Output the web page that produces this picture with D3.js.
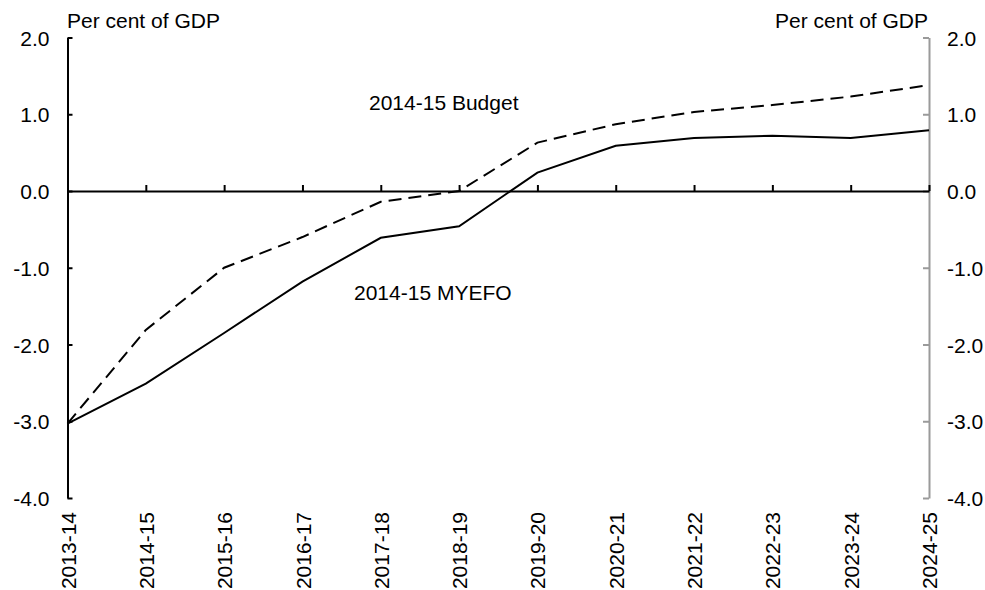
<!DOCTYPE html>
<html lang="en">
<head>
	<meta charset="UTF-8">
	<title>Underlying cash balance</title>
	<script src="https://cdn.jsdelivr.net/npm/d3@7"></script>
	<style>
		body{
			margin: 0;
			background: #fff;
			font-family: "Liberation Sans", Arial, sans-serif;
		}
		svg text{
			font-family: "Liberation Sans", Arial, sans-serif;
			fill: #000;
		}
	</style>
</head>
<body>
	<div id="chart"></div>
	<script>
		// financial years on the x axis
		var years = ['2013-14','2014-15','2015-16','2016-17','2017-18','2018-19',
			'2019-20','2020-21','2021-22','2022-23','2023-24','2024-25'];
		// per cent of GDP
		var budget = [-3.03,-1.81,-1.0,-0.60,-0.14,0.0,0.63,0.87,1.03,1.12,1.23,1.38];
		var myefo = [-3.03,-2.51,-1.85,-1.18,-0.61,-0.46,0.24,0.59,0.69,0.72,0.69,0.79];
		var yTicks = [2,1,0,-1,-2,-3,-4];
		var unitLabel = 'Per cent of GDP';

		var width = 985;
		var height = 590;
		var fontSize = '21px';

		// plain hyphen for negatives, like the original
		var fmt = function(d){ return d.toFixed(1); };

		var canvas = d3.select('#chart').append('svg')
			.attr('width', width)
			.attr('height', height);

		var xScale = d3.scalePoint().domain(years).range([67.5, 929]);
		var yScale = d3.scaleLinear().domain([-4, 2]).range([498, 37.5]);

		// left axis, ticks pointing inward
		var leftAxis = canvas.append('g')
			.attr('transform', 'translate(67.5,0)')
			.call(d3.axisLeft(yScale).tickValues(yTicks).tickFormat(fmt)
				.tickSizeInner(-5).tickSizeOuter(0).tickPadding(18));
		leftAxis.selectAll('path, line').attr('stroke', '#000').attr('stroke-width', 2);
		leftAxis.selectAll('text').style('font-size', fontSize).attr('dy', '0.36em');

		// right axis, grey
		var rightAxis = canvas.append('g')
			.attr('transform', 'translate(929,0)')
			.call(d3.axisRight(yScale).tickValues(yTicks).tickFormat(fmt)
				.tickSizeInner(-6).tickSizeOuter(0).tickPadding(18));
		rightAxis.selectAll('path, line').attr('stroke', '#9a9a9a').attr('stroke-width', 2);
		rightAxis.selectAll('text').style('font-size', fontSize).attr('dy', '0.36em');

		// zero line with small upward ticks
		var zeroAxis = canvas.append('g')
			.attr('transform', 'translate(0,' + yScale(0) + ')')
			.call(d3.axisTop(xScale).tickSizeInner(6).tickSizeOuter(0).tickFormat(''));
		zeroAxis.selectAll('path, line').attr('stroke', '#000').attr('stroke-width', 2);

		// category labels, rotated
		var bottomAxis = canvas.append('g')
			.attr('transform', 'translate(0,' + yScale(-4) + ')')
			.call(d3.axisBottom(xScale).tickSize(0).tickPadding(0));
		bottomAxis.select('.domain').remove();
		bottomAxis.selectAll('text')
			.style('font-size', fontSize)
			.attr('text-anchor', 'end')
			.attr('transform', 'translate(0,14) rotate(-90)')
			.attr('x', 0)
			.attr('y', 0)
			.attr('dy', '0.36em');

		var line = d3.line()
			.x(function(d, i){ return xScale(years[i]); })
			.y(function(d){ return yScale(d); });

		canvas.append('path')
			.datum(budget)
			.attr('fill', 'none')
			.attr('stroke', '#000')
			.attr('stroke-width', 2)
			.attr('stroke-dasharray', '13,7')
			.attr('d', line);

		canvas.append('path')
			.datum(myefo)
			.attr('fill', 'none')
			.attr('stroke', '#000')
			.attr('stroke-width', 2)
			.attr('d', line);

		// unit labels
		canvas.append('text')
			.attr('x', 67)
			.attr('y', 28)
			.style('font-size', fontSize)
			.text(unitLabel);
		canvas.append('text')
			.attr('x', 928)
			.attr('y', 28)
			.attr('text-anchor', 'end')
			.style('font-size', fontSize)
			.text(unitLabel);

		// series labels
		canvas.append('text')
			.attr('x', 369)
			.attr('y', 110)
			.style('font-size', fontSize)
			.text('2014-15 Budget');
		canvas.append('text')
			.attr('x', 354)
			.attr('y', 300)
			.style('font-size', fontSize)
			.text('2014-15 MYEFO');
	</script>
</body>
</html>
